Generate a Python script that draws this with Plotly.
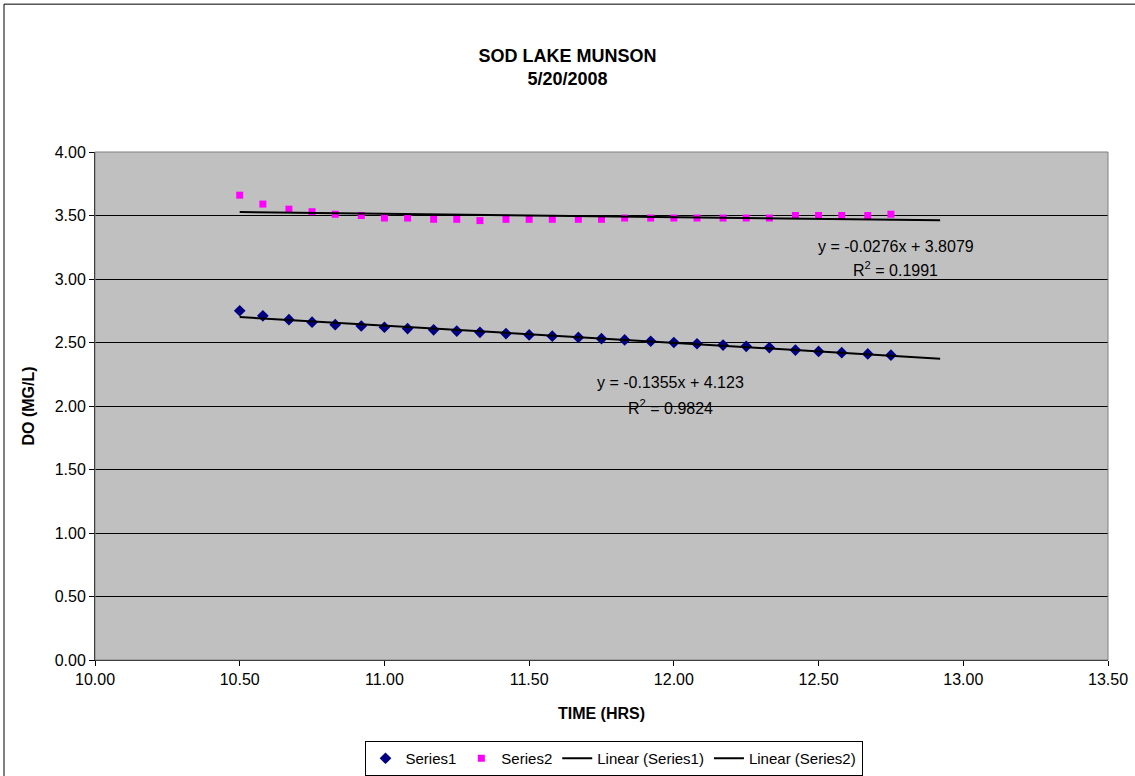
import numpy as np
import plotly.graph_objects as go

# ---- data ----
time_hrs = [10.50, 10.58, 10.67, 10.75, 10.83, 10.92, 11.00, 11.08, 11.17, 11.25,
            11.33, 11.42, 11.50, 11.58, 11.67, 11.75, 11.83, 11.92, 12.00, 12.08,
            12.17, 12.25, 12.33, 12.42, 12.50, 12.58, 12.67, 12.75]
series1 = [2.75, 2.71, 2.68, 2.66, 2.64, 2.63, 2.62, 2.61, 2.60, 2.59,
           2.58, 2.57, 2.56, 2.55, 2.54, 2.53, 2.52, 2.51, 2.50, 2.49,
           2.48, 2.47, 2.46, 2.44, 2.43, 2.42, 2.41, 2.40]
series2 = [3.66, 3.59, 3.55, 3.53, 3.51, 3.50, 3.48, 3.48, 3.47, 3.47,
           3.46, 3.47, 3.47, 3.47, 3.47, 3.47, 3.48, 3.48, 3.48, 3.48,
           3.48, 3.48, 3.48, 3.50, 3.50, 3.50, 3.50, 3.51]
trend_forward = 0.17  # Excel trendline forecast forward (hrs)
eq1_text = ["y = -0.1355x + 4.123", "R<sup>2</sup> = 0.9824"]
eq2_text = ["y = -0.0276x + 3.8079", "R<sup>2</sup> = 0.1991"]
x_ticks = [10.0, 10.5, 11.0, 11.5, 12.0, 12.5, 13.0, 13.5]
y_ticks = [0.0, 0.5, 1.0, 1.5, 2.0, 2.5, 3.0, 3.5, 4.0]

FONT = "Liberation Sans, Arial, sans-serif"

W, H = 1135, 776
L, R, T, B = 95, 27, 152, 115.5
PW, PH = W - L - R, H - T - B

x = np.array(time_hrs)
xt = np.array([x.min(), x.max() + trend_forward])
fit1 = np.polyfit(x, np.array(series1), 1)
fit2 = np.polyfit(x, np.array(series2), 1)

fig = go.Figure()
fig.add_trace(go.Scatter(x=time_hrs, y=series1, mode="markers", name="Series1",
                         marker=dict(symbol="diamond", size=9, color="#000080")))
fig.add_trace(go.Scatter(x=time_hrs, y=series2, mode="markers", name="Series2",
                         marker=dict(symbol="square", size=7, color="#FF00FF")))
fig.add_trace(go.Scatter(x=xt, y=np.polyval(fit1, xt), mode="lines", name="Linear (Series1)",
                         line=dict(color="black", width=2)))
fig.add_trace(go.Scatter(x=xt, y=np.polyval(fit2, xt), mode="lines", name="Linear (Series2)",
                         line=dict(color="black", width=2)))

ann_font = dict(family=FONT, size=16, color="black")
for (xc, yc, txt) in [(11.99, 2.183, eq1_text[0]), (11.99, 1.995, eq1_text[1]),
                      (12.767, 3.253, eq2_text[0]), (12.767, 3.08, eq2_text[1])]:
    fig.add_annotation(x=xc, y=yc, text=txt, showarrow=False, font=ann_font,
                       xanchor="center", yanchor="middle")


def px_x(p):
    return (p - L) / PW


def px_y(p):
    return (H - B - p) / PH


# plot-area border (gray) and outer chart frame (black)
fig.add_shape(type="rect", xref="paper", yref="paper", x0=0, x1=1, y0=0, y1=1,
              line=dict(color="#808080", width=1), layer="above")
fig.add_shape(type="rect", xref="paper", yref="paper",
              x0=px_x(4), x1=px_x(W + 10), y0=px_y(H + 10), y1=px_y(4),
              line=dict(color="black", width=1), layer="above")

fig.update_layout(
    width=W, height=H, autosize=False,
    margin=dict(l=L, r=R, t=T, b=B),
    paper_bgcolor="white", plot_bgcolor="#C0C0C0",
    font=dict(family=FONT, size=16, color="black"),
    title=dict(text="<b>SOD LAKE MUNSON<br>5/20/2008</b>", x=0.5, xref="container",
               xanchor="center", y=1 - 61.5 / H, yref="container", yanchor="middle",
               font=dict(family=FONT, size=18, color="black")),
    showlegend=True,
    legend=dict(orientation="h", xref="container", x=613.5 / W, xanchor="center",
                yref="container", y=1 - 741 / H, yanchor="top",
                bordercolor="black", borderwidth=1, bgcolor="white",
                font=dict(family=FONT, size=15, color="black")),
    xaxis=dict(range=[10, 13.5], tickvals=x_ticks, ticktext=[f"{v:.2f}" for v in x_ticks],
               ticks="outside", ticklen=5, tickcolor="black", showline=True, linecolor="black",
               showgrid=False, zeroline=False, automargin=False,
               title=dict(text="<b>TIME (HRS)</b>", font=dict(family=FONT, size=16), standoff=20)),
    yaxis=dict(range=[0, 4], tickvals=y_ticks, ticktext=[f"{v:.2f}" for v in y_ticks],
               ticks="outside", ticklen=5, tickcolor="black", showline=True, linecolor="black",
               showgrid=True, gridcolor="black", gridwidth=1, zeroline=False, automargin=False,
               title=dict(text="<b>DO (MG/L)</b>", font=dict(family=FONT, size=16), standoff=16)),
)

fig.write_html("out.html", config={"displayModeBar": False},
               post_script="document.body.style.margin='0';document.body.style.overflow='hidden';")
